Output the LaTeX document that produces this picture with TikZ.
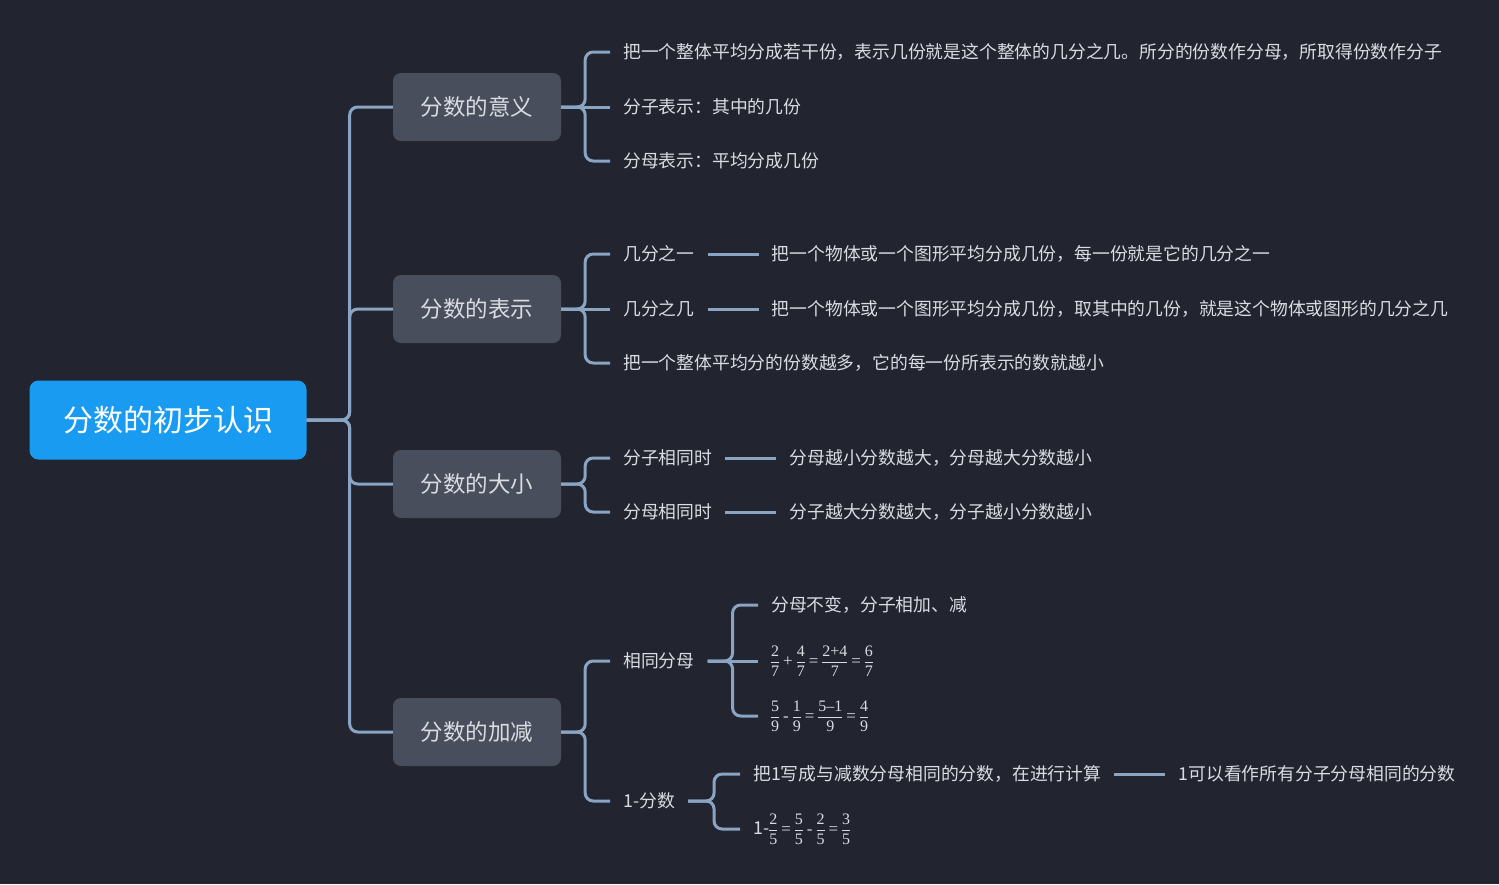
\documentclass[tikz,border=0pt]{standalone}
\usepackage{fontspec}
\setmainfont{Noto Sans CJK SC}
\newfontfamily\fracfont{Liberation Serif}
\usepackage{amsmath}
\usetikzlibrary{positioning}
\definecolor{bgdark}{RGB}{34,37,48}
\definecolor{rootblue}{RGB}{26,155,242}
\definecolor{topicgray}{RGB}{73,78,93}
\definecolor{linkblue}{RGB}{138,164,196}
\definecolor{leaftext}{RGB}{218,220,226}
\newcommand{\fracpart}[2]{\dfrac{\text{\fracfont\fontsize{16}{18}\selectfont #1}}{\text{\fracfont\fontsize{16}{18}\selectfont #2}}}
\newcommand{\opsign}[1]{\mkern5mu\text{\fracfont\fontsize{17}{18}\selectfont #1}\mkern5mu}

\begin{document}
\begin{tikzpicture}[x=1pt,y=-1pt,
  root/.style={fill=rootblue,rounded corners=9pt,minimum width=277pt,minimum height=79pt,text=white,font=\fontsize{30}{36}\selectfont},
  topic/.style={fill=topicgray,rounded corners=8pt,minimum width=168pt,minimum height=68pt,text=leaftext,font=\fontsize{22.5}{27}\selectfont},
  leaf/.style={anchor=west,inner xsep=13pt,inner ysep=0pt,text height=14.8pt,text depth=2.8pt,text=leaftext,font=\fontsize{17.8}{22}\selectfont},
  formula/.style={anchor=west,inner xsep=13pt,inner ysep=0pt,text=leaftext,font={\fontsize{15}{18}\selectfont\nulldelimiterspace=0pt}},
  link/.style={draw=linkblue,line width=3pt,rounded corners=8pt},
  bar/.style={draw=linkblue,line width=3pt}]
\fill[bgdark] (0,0) rectangle (1499,884);
\useasboundingbox (0,0) rectangle (1499,884);

% main topic and the four branches
\node[root] (root) at (168,420) {分数的初步认识};
\node[topic] (meaning) at (477,107) {分数的意义};
\node[topic] (notation) at (477,309) {分数的表示};
\node[topic] (compare) at (477,484) {分数的大小};
\node[topic] (addsub) at (477,732) {分数的加减};
\foreach \t in {meaning,notation,compare,addsub}
    \draw[link] (root.east) -- ++(43,0) |- (\t.west);

% 分数的意义
\node[leaf] (m1) at (610,52) {把一个整体平均分成若干份，表示几份就是这个整体的几分之几。所分的份数作分母，所取得份数作分子};
\node[leaf] (m2) at (610,107) {分子表示：其中的几份};
\node[leaf] (m3) at (610,161) {分母表示：平均分成几份};
\foreach \c in {m1,m3}
    \draw[link] (meaning.east) -- ++(24,0) |- (\c.west);
\draw[link] (meaning.east) -- (m2.west);

% 分数的表示
\node[leaf] (n1) at (610,254) {几分之一};
\node[leaf] (n2) at (610,309) {几分之几};
\node[leaf] (n3) at (610,363) {把一个整体平均分的份数越多，它的每一份所表示的数就越小};
\node[leaf,right=51pt of n1] (n1x) {把一个物体或一个图形平均分成几份，每一份就是它的几分之一};
\node[leaf,right=51pt of n2] (n2x) {把一个物体或一个图形平均分成几份，取其中的几份，就是这个物体或图形的几分之几};
\foreach \c in {n1,n3}
    \draw[link] (notation.east) -- ++(24,0) |- (\c.west);
\draw[link] (notation.east) -- (n2.west);
\draw[bar] (n1.east) -- (n1x.west);
\draw[bar] (n2.east) -- (n2x.west);

% 分数的大小
\node[leaf] (c1) at (610,458) {分子相同时};
\node[leaf] (c2) at (610,512) {分母相同时};
\node[leaf,right=51pt of c1] (c1x) {分母越小分数越大，分母越大分数越小};
\node[leaf,right=51pt of c2] (c2x) {分子越大分数越大，分子越小分数越小};
\foreach \c in {c1,c2}
    \draw[link] (compare.east) -- ++(24,0) |- (\c.west);
\draw[bar] (c1.east) -- (c1x.west);
\draw[bar] (c2.east) -- (c2x.west);

% 分数的加减
\node[leaf] (a1) at (610,661) {相同分母};
\node[leaf] (a2) at (610,801) {1-分数};
\foreach \c in {a1,a2}
    \draw[link] (addsub.east) -- ++(24,0) |- (\c.west);

\node[leaf] (s1) at (758,605) {分母不变，分子相加、减};
\node[formula] (s2) at (758,661) {$\fracpart{2}{7}\opsign{+}\fracpart{4}{7}\opsign{=}\fracpart{2+4}{7}\opsign{=}\fracpart{6}{7}$};
\node[formula] (s3) at (758,716) {$\fracpart{5}{9}\opsign{-}\fracpart{1}{9}\opsign{=}\fracpart{5\textendash1}{9}\opsign{=}\fracpart{4}{9}$};
\foreach \c in {s1,s3}
    \draw[link] (a1.east) -- ++(25,0) |- (\c.west);
\draw[link] (a1.east) -- (s2.west);

\node[leaf] (o1) at (740,774) {把1写成与减数分母相同的分数，在进行计算};
\node[formula] (o2) at (740,829) {{\fontsize{17.8}{22}\selectfont 1-}$\fracpart{2}{5}\opsign{=}\fracpart{5}{5}\opsign{-}\fracpart{2}{5}\opsign{=}\fracpart{3}{5}$};
\node[leaf,right=51pt of o1] (o1x) {1可以看作所有分子分母相同的分数};
\foreach \c in {o1,o2}
    \draw[link] (a2.east) -- ++(26,0) |- (\c.west);
\draw[bar] (o1.east) -- (o1x.west);
\end{tikzpicture}
\end{document}
